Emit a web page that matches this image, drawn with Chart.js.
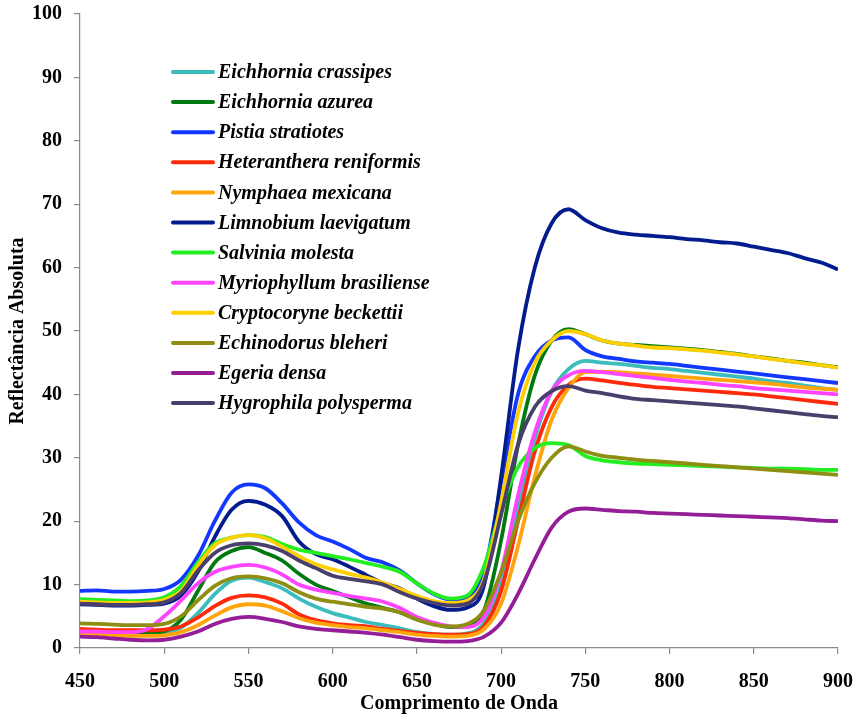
<!DOCTYPE html>
<html>
<head>
<meta charset="utf-8">
<script src="https://cdn.jsdelivr.net/npm/chart.js@4.4.1/dist/chart.umd.min.js"></script>
<style>
  html, body { margin: 0; padding: 0; background: #ffffff; }
  #wrap { position: relative; width: 857px; height: 718px; }
</style>
</head>
<body>
<div id="wrap"><canvas id="c" width="857" height="718"></canvas></div>
<script>
// Wavelength (nm)
const wavelengths = [450,460,470,480,490,500,510,520,530,540,550,560,570,580,590,600,610,620,630,640,650,660,670,680,690,700,710,720,730,740,750,760,770,780,790,800,810,820,830,840,850,860,870,880,890,900];

const xTicks = [450,500,550,600,650,700,750,800,850,900];
const yTicks = [0,10,20,30,40,50,60,70,80,90,100];

const seriesNames = [
  'Eichhornia crassipes','Eichhornia azurea','Pistia stratiotes','Heteranthera reniformis',
  'Nymphaea mexicana','Limnobium laevigatum','Salvinia molesta','Myriophyllum brasiliense',
  'Cryptocoryne beckettii','Echinodorus bleheri','Egeria densa','Hygrophila polysperma'
];
const seriesColors = ['#3cbcbc','#007a10','#1238ff','#ff2a0a','#ffa40a','#021c8e','#22ee22','#ff44ff','#ffcf00','#8e8e12','#941e98','#4a3e6c'];

const eichhorniaCrassipes = [2.5,2.4,2.3,2.2,2.2,2.3,3.2,5.5,8.5,10.6,11.1,10.4,9.4,7.8,6.5,5.5,4.8,4.1,3.6,3.1,2.5,2.2,2.1,2.3,4,10,22,33,40.5,44,45.3,45,44.8,44.5,44.2,44,43.7,43.4,43.1,42.8,42.5,42.1,41.8,41.4,41.0,40.7];
const eichhorniaAzurea = [2.4,2.3,2.2,2.2,2.3,2.6,4.5,9,13.5,15.3,15.9,15.0,13.8,11.7,10,9,8.0,7.0,6.3,5.6,4.5,3.8,3.3,3.5,6,17,32,43,48.5,50.3,49.5,48.5,48,47.8,47.6,47.4,47.2,47,46.7,46.4,46,45.7,45.3,45,44.6,44.3];
const pistiaStratiotes = [9.0,9.1,8.9,8.9,9.0,9.3,10.8,14.5,20,24.5,25.8,25.2,22.8,19.8,17.8,16.8,15.6,14.2,13.5,12.2,10.2,8.5,7.6,8.0,12,26,40,46,48.5,49,47,46,45.6,45.2,45.0,44.8,44.5,44.2,43.9,43.6,43.3,43.0,42.7,42.4,42.1,41.8];
const heterantheraReniformis = [3.0,2.9,2.8,2.8,2.8,2.9,3.4,4.8,6.6,7.9,8.3,8.0,7.0,5.3,4.4,3.9,3.6,3.4,3.0,2.7,2.4,2.2,2.1,2.2,3.5,9,20,31,38,41.5,42.5,42.2,41.8,41.5,41.2,41.0,40.8,40.6,40.4,40.2,40.0,39.7,39.4,39.1,38.8,38.5];
const nymphaeaMexicana = [2.2,2.1,2.0,1.9,1.9,2.0,2.5,3.6,5.1,6.4,6.9,6.7,5.8,4.7,4.0,3.6,3.3,3.1,2.8,2.5,2.1,1.9,1.8,1.9,3,7,16,27,36,41,43.5,43.6,43.5,43.3,43.1,42.9,42.7,42.5,42.3,42.1,41.9,41.7,41.4,41.1,40.9,40.7];
const limnobiumLaevigatum = [6.9,6.8,6.7,6.7,6.8,7.0,8.3,12,17.5,21.8,23.2,22.6,20.8,16.8,14.8,14.0,12.8,11.5,10.2,9.4,7.8,6.6,6.0,6.4,10,27,47,60,67,69.2,67.5,66.2,65.5,65.2,65,64.8,64.5,64.3,64,63.8,63.3,62.8,62.3,61.5,60.8,59.7];
const salviniaMolesta = [7.7,7.6,7.5,7.4,7.5,8.0,9.8,13.5,16.5,17.4,17.8,17.5,16.4,15.5,15.0,14.5,14.0,13.4,12.8,12.0,10.2,8.6,7.8,8.3,13,22,28.5,31.5,32.3,32,30.3,29.6,29.3,29.1,29,28.9,28.8,28.7,28.6,28.5,28.4,28.3,28.3,28.2,28.1,28.1];
const myriophyllumBrasiliense = [2.6,2.6,2.5,2.5,3.0,5.0,7.5,10.2,12.0,12.8,13.1,12.7,11.6,10.0,9.2,8.7,8.2,7.8,7.3,6.3,4.9,4.0,3.4,3.3,5,12,24,34,40.5,43,43.7,43.5,43.2,42.9,42.6,42.3,42,41.8,41.5,41.3,41,40.8,40.6,40.4,40.2,40.0];
const cryptocoryneBeckettii = [7.3,7.2,7.1,7.1,7.2,7.6,9.0,13,16.2,17.4,17.8,17.3,16.0,14.5,13.2,12.4,11.7,11.1,10.3,9.3,8.2,7.4,7.1,7.5,11,23,37,45,48.5,50,49.5,48.5,48,47.7,47.4,47.3,47.1,46.9,46.6,46.3,46.0,45.6,45.3,44.9,44.6,44.2];
const echinodorusBleheri = [3.9,3.8,3.7,3.6,3.6,3.8,5.0,7.5,9.8,11.0,11.3,11.0,10.2,8.8,7.8,7.3,6.9,6.5,6.2,5.6,4.5,3.7,3.4,3.8,6,12,20,26,30,31.8,31,30.3,30,29.7,29.5,29.3,29.1,28.9,28.7,28.5,28.3,28.1,27.9,27.7,27.5,27.3];
const egeriaDensa = [1.8,1.7,1.5,1.3,1.2,1.3,1.8,2.6,3.8,4.6,4.9,4.6,4.1,3.4,3.0,2.8,2.6,2.4,2.1,1.7,1.3,1.1,1.0,1.1,1.8,4,8.5,14,19,21.5,22,21.8,21.6,21.5,21.3,21.2,21.1,21,20.9,20.8,20.7,20.6,20.5,20.3,20.1,20.0];
const hygrophilaPolysperma = [7.0,6.9,6.8,6.8,6.9,7.2,8.7,12.2,15.0,16.2,16.5,16.2,15.3,13.8,12.6,11.4,10.9,10.5,10.0,8.8,7.8,7.1,6.7,7.0,10.5,21,32,38,40.5,41.3,40.6,40.2,39.7,39.3,39.1,38.9,38.7,38.5,38.3,38.1,37.8,37.5,37.2,36.9,36.6,36.4];

const seriesValues = [eichhorniaCrassipes, eichhorniaAzurea, pistiaStratiotes, heterantheraReniformis,
  nymphaeaMexicana, limnobiumLaevigatum, salviniaMolesta, myriophyllumBrasiliense,
  cryptocoryneBeckettii, echinodorusBleheri, egeriaDensa, hygrophilaPolysperma];

const SERIF = "'Liberation Serif', 'Times New Roman', 'DejaVu Serif', serif";

const datasets = seriesNames.map((name, i) => ({
  label: name,
  data: wavelengths.map((x, k) => ({ x: x, y: seriesValues[i][k] })),
  borderColor: seriesColors[i],
  backgroundColor: seriesColors[i],
  borderWidth: 3.8,
  pointRadius: 0,
  cubicInterpolationMode: 'monotone',
  fill: false,
  order: seriesNames.length - i
}));

const insideLegend = {
  id: 'insideLegend',
  afterDraw(chart) {
    const ctx = chart.ctx;
    ctx.save();
    ctx.font = "italic bold 20px " + SERIF;
    ctx.textBaseline = 'middle';
    ctx.textAlign = 'left';
    const x0 = 173, x1 = 213, tx = 218, y0 = 72, dy = 30.1;
    chart.data.datasets.forEach((ds, i) => {
      const y = y0 + i * dy;
      ctx.strokeStyle = ds.borderColor;
      ctx.lineWidth = 4;
      ctx.lineCap = 'round';
      ctx.beginPath();
      ctx.moveTo(x0, y);
      ctx.lineTo(x1, y);
      ctx.stroke();
      ctx.fillStyle = '#000000';
      ctx.fillText(ds.label, tx, y + 1);
    });
    ctx.restore();
  }
};

new Chart(document.getElementById('c'), {
  type: 'line',
  data: { datasets: datasets },
  plugins: [insideLegend],
  options: {
    responsive: false,
    animation: false,
    layout: { padding: { left: 0, right: 19, top: 14, bottom: 0 } },
    plugins: { legend: { display: false }, tooltip: { enabled: false } },
    scales: {
      x: {
        type: 'linear', min: 450, max: 900,
        afterBuildTicks: (s) => { s.ticks = xTicks.map(v => ({ value: v })); },
        afterFit: (s) => { s.height = 70; s.paddingLeft = 0; s.paddingRight = 0; },
        ticks: { color: '#000', font: { family: SERIF, size: 20, weight: 'bold' }, padding: 16, maxRotation: 0 },
        grid: { drawOnChartArea: false, drawTicks: true, tickLength: 6, color: '#8a8a8a', lineWidth: 1.2 },
        border: { display: true, color: '#8a8a8a', width: 1.2 },
        title: { display: true, text: 'Comprimento de Onda', color: '#000', font: { family: SERIF, size: 20, weight: 'bold' }, padding: { top: 0, bottom: 2 } }
      },
      y: {
        type: 'linear', min: 0, max: 100,
        afterBuildTicks: (s) => { s.ticks = yTicks.map(v => ({ value: v })); },
        afterFit: (s) => { s.width = 80; s.paddingTop = 0; s.paddingBottom = 0; },
        ticks: { color: '#000', font: { family: SERIF, size: 20, weight: 'bold' }, padding: 12 },
        grid: { drawOnChartArea: false, drawTicks: true, tickLength: 6, color: '#8a8a8a', lineWidth: 1.2 },
        border: { display: true, color: '#8a8a8a', width: 1.2 },
        title: { display: true, text: 'Reflectância Absoluta', color: '#000', font: { family: SERIF, size: 20, weight: 'bold' }, padding: { top: 6, bottom: 0 } }
      }
    }
  }
});
</script>
</body>
</html>
